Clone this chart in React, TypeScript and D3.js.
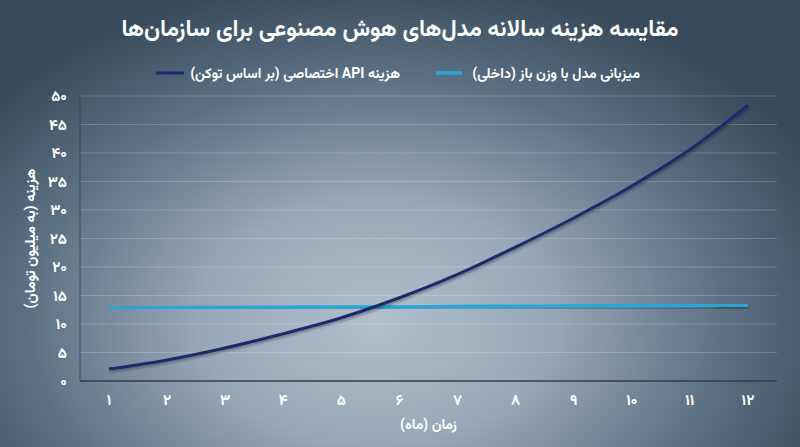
import React from "react";
import * as d3 from "d3";

const months = [1, 2, 3, 4, 5, 6, 7, 8, 9, 10, 11, 12];
const apiCost = [2.1, 3.7, 5.8, 8.3, 11.1, 14.6, 18.7, 23.5, 28.6, 34.2, 40.6, 48.4];
const hostCost = [12.8, 12.85, 12.9, 12.95, 13.0, 13.0, 13.05, 13.1, 13.15, 13.2, 13.25, 13.3];
const yTicks = [0, 5, 10, 15, 20, 25, 30, 35, 40, 45, 50];

const title = "مقایسه هزینه سالانه مدل‌های هوش مصنوعی برای سازمان‌ها";
const legendHost = "میزبانی مدل با وزن باز (داخلی)";
const legendApi = "هزینه API اختصاصی (بر اساس توکن)";
const yTitle = "هزینه (به میلیون تومان)";
const xTitle = "زمان (ماه)";

const W = 800;
const H = 447;
const margin = { left: 80, right: 23, top: 96, bottom: 66 };

const fa = (n: number) =>
  String(n).replace(/[0-9]/g, (d) => String.fromCharCode(0x06f0 + Number(d)));

const FONT = "Vazirmatn, 'DejaVu Sans', 'Noto Sans', sans-serif";

export default function App() {
  const x = d3
    .scalePoint<number>()
    .domain(months)
    .range([margin.left, W - margin.right])
    .padding(0.5);
  const y = d3
    .scaleLinear()
    .domain([0, 50])
    .range([H - margin.bottom, margin.top]);

  const line = d3
    .line<number>()
    .x((_, i) => x(months[i]) as number)
    .y((d) => y(d))
    .curve(d3.curveMonotoneX);

  const x0 = margin.left;
  const x1 = W - margin.right;
  const yb = H - margin.bottom;

  return (
    <svg
      width={W}
      height={H}
      style={{ position: "absolute", left: 0, top: 0, display: "block" }}
      fontFamily={FONT}
    >
      <defs>
        <radialGradient id="bg" cx="0.47" cy="0.72" r="0.62" fx="0.47" fy="0.72"
          gradientTransform="translate(0.47 0.72) scale(1 1.25) translate(-0.47 -0.72)">
          <stop offset="0" stopColor="#b2bfcc" />
          <stop offset="0.35" stopColor="#97a8b8" />
          <stop offset="0.7" stopColor="#5d7185" />
          <stop offset="1" stopColor="#364a5b" />
        </radialGradient>
        <filter id="sh" x="-5%" y="-20%" width="110%" height="140%">
          <feDropShadow dx="1" dy="2" stdDeviation="1.2" floodColor="#000" floodOpacity="0.3" />
        </filter>
      </defs>
      <rect x={0} y={0} width={W} height={H} fill="url(#bg)" />

      {/* grid */}
      {yTicks.map((t) => (
        <line
          key={"g" + t}
          x1={x0}
          x2={x1}
          y1={y(t)}
          y2={y(t)}
          stroke="#ffffff"
          strokeOpacity={t === 0 ? 0 : 0.18}
          strokeWidth={1}
        />
      ))}
      {/* axes */}
      <line x1={x0} x2={x0} y1={margin.top} y2={yb} stroke="#2f3e4c" strokeOpacity={0.7} strokeWidth={1} />
      <line x1={x0} x2={x1} y1={yb} y2={yb} stroke="#2f3e4c" strokeWidth={1.5} />

      {/* y tick labels */}
      {yTicks.map((t) => (
        <text
          key={"yt" + t}
          x={67}
          y={y(t)}
          dy="0.35em"
          textAnchor="end"
          fill="#ffffff"
          fontSize={15}
          fontWeight="bold"
        >
          {fa(t)}
        </text>
      ))}
      {/* x tick labels */}
      {months.map((m) => (
        <text
          key={"xt" + m}
          x={x(m) as number}
          y={400}
          dy="0.35em"
          textAnchor="middle"
          fill="#ffffff"
          fontSize={15}
          fontWeight="bold"
        >
          {fa(m)}
        </text>
      ))}

      {/* lines */}
      <path d={line(hostCost) || ""} fill="none" stroke="#2aa5d6" strokeWidth={3.5} filter="url(#sh)" />
      <path d={line(apiCost) || ""} fill="none" stroke="#1a2b6d" strokeWidth={3} filter="url(#sh)" />

      {/* title */}
      <text
        x={W / 2}
        y={28}
        dy="0.35em"
        textAnchor="middle"
        direction="rtl"
        fill="#ffffff"
        fontSize={23}
        fontWeight="bold"
      >
        {title}
      </text>

      {/* legend */}
      <line x1={436} x2={462} y1={73} y2={73} stroke="#2aa5d6" strokeWidth={3.5} />
      <text x={640} y={73} dy="0.35em" direction="rtl" textAnchor="start" fill="#ffffff" fontSize={14} fontWeight="bold">
        {legendHost}
      </text>
      <line x1={156} x2={184} y1={73} y2={73} stroke="#1a2b6d" strokeWidth={3} />
      <text x={400} y={73} dy="0.35em" direction="rtl" textAnchor="start" fill="#ffffff" fontSize={14} fontWeight="bold">
        {legendApi}
      </text>

      {/* axis titles */}
      <text
        transform={`translate(30, ${(margin.top + yb) / 2}) rotate(-90)`}
        textAnchor="middle"
        direction="rtl"
        dy="0.35em"
        fill="#ffffff"
        fontSize={14.5}
        fontWeight="bold"
      >
        {yTitle}
      </text>
      <text
        x={(x0 + x1) / 2}
        y={424}
        dy="0.35em"
        textAnchor="middle"
        direction="rtl"
        fill="#ffffff"
        fontSize={14}
        fontWeight="bold"
      >
        {xTitle}
      </text>
    </svg>
  );
}
